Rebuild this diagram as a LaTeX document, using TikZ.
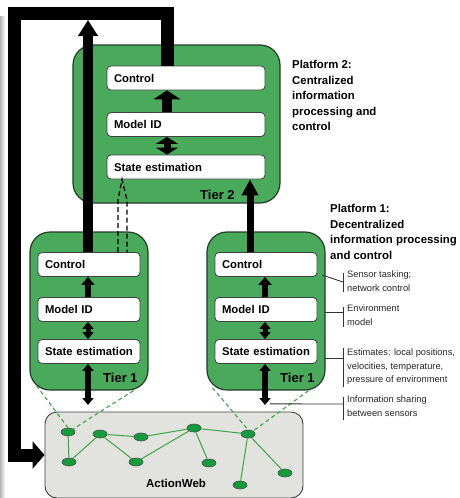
\documentclass[tikz,border=0pt]{standalone}
\usepackage{fontspec}
\setmainfont{Liberation Sans}
\usetikzlibrary{arrows.meta,shapes.geometric}
\definecolor{tgreen}{RGB}{74,170,92}
\definecolor{tedge}{RGB}{35,60,40}
\definecolor{ngreen}{RGB}{20,155,60}
\definecolor{lgreen}{RGB}{60,165,70}
\definecolor{awgray}{RGB}{226,226,222}
\tikzset{
  gbox/.style={draw=tedge, line width=1.2pt, fill=tgreen, rounded corners=20pt, inner sep=0pt},
  ibox/.style={draw=black!75, line width=0.8pt, fill=white, rounded corners=4pt, inner xsep=7pt, inner ysep=0pt,
     minimum height=24pt, align=left, font=\bfseries\fontsize{11.3}{13}\selectfont, text depth=0pt},
  tierlbl/.style={font=\bfseries\fontsize{13}{15}\selectfont, inner sep=0pt},
  bigarr/.style={line width=10pt, -{Triangle[width=27pt,length=9pt]}},
  dblarr/.style={line width=7pt, {Triangle[width=22pt,length=7pt]}-{Triangle[width=22pt,length=7pt]}},
  smarr/.style={line width=6pt, -{Triangle[width=13pt,length=8pt]}},
  smdbl/.style={line width=5pt, {Triangle[width=11pt,length=7pt]}-{Triangle[width=11pt,length=7pt]}},
  platlbl/.style={font=\bfseries\fontsize{11.4}{15.6}\selectfont, align=left, anchor=north west, inner sep=0pt},
  annot/.style={font=\fontsize{9.3}{13.4}\selectfont, align=left, anchor=north west, inner sep=0pt, text=black!85},
  annline/.style={draw=black!80, line width=0.9pt},
  wnode/.style={ellipse, draw=black!70, line width=0.6pt, fill=ngreen, minimum width=14pt, minimum height=8pt, inner sep=0pt},
  wedge/.style={draw=lgreen, line width=1pt},
  gdash/.style={draw=lgreen, line width=1.1pt, dash pattern=on 4pt off 3pt},
}
\begin{document}
\begin{tikzpicture}[x=1pt,y=-1pt]
\useasboundingbox (0,0) rectangle (460,498);
\fill[white] (0,0) rectangle (460,498);
% page shadow on the left
\shade[left color=gray!60, right color=white] (0,16) rectangle (5,498);

% ActionWeb
\node[draw=black!75, line width=0.9pt, fill=awgray, rounded corners=12pt, minimum width=258pt, minimum height=86pt, inner sep=0pt] (aw) at (174,455) {};
\node[font=\bfseries\fontsize{11.5}{13}\selectfont, inner sep=0pt] (awl) at (176,483) {ActionWeb};

% green platform boxes
\node[gbox, minimum width=207pt, minimum height=158pt] (t2) at (176.5,124) {};
\node[gbox, minimum width=118pt, minimum height=158pt] (t1l) at (89,311) {};
\node[gbox, minimum width=118pt, minimum height=158pt] (t1r) at (266,311) {};

% Tier 2 inner boxes
\node[ibox, text width=144pt] (c2) at (186,78) {Control};
\node[ibox, text width=144pt] (m2) at (186,124.5) {Model ID};
\node[ibox, text width=144pt] (s2) at (186,167) {State estimation};
\node[tierlbl, anchor=base west] (tl2) at (200,199) {Tier 2};

% Tier 1 left
\node[ibox, text width=88pt] (c1l) at (89,264.5) {Control};
\node[ibox, text width=88pt] (m1l) at (89,309.5) {Model ID};
\node[ibox, text width=88pt] (s1l) at (89,351.5) {State estimation};
\node[tierlbl, anchor=base west] (tl1l) at (103,382) {Tier 1};

% Tier 1 right
\node[ibox, text width=88pt] (c1r) at (266,264.5) {Control};
\node[ibox, text width=88pt] (m1r) at (266,309.5) {Model ID};
\node[ibox, text width=88pt] (s1r) at (266,351.5) {State estimation};
\node[tierlbl, anchor=base west] (tl1r) at (280,382) {Tier 1};

% x positions of arrows
\coordinate (x2) at (167,0);
\coordinate (xl) at (88,0);
\coordinate (xr) at (265,0);
\coordinate (xu) at (250,0);
\coordinate (topin) at (0,20);
\coordinate (bl) at (0,405);
\coordinate (br) at (0,405);

% big feedback frame
\draw[line width=13pt, line join=miter, -{Triangle[width=27pt,length=12pt]}]
  (c2.north -| x2) -- (167,13) -- (14.5,13) |- (aw.west);

% Tier 2 arrows
\draw[bigarr] (m2.north -| x2) -- (c2.south -| x2);
\draw[dblarr] (s2.north -| x2) -- (m2.south -| x2);

% Tier 1 left arrows
\draw[line width=10pt, -{Triangle[width=19pt,length=16pt]}] (c1l.north -| xl) -- (topin -| xl);
\draw[smarr] (m1l.north -| xl) -- (c1l.south -| xl);
\draw[smdbl] (s1l.north -| xl) -- (m1l.south -| xl);
\draw[smdbl, line width=6pt] (s1l.south -| xl) -- (bl -| xl);

% Tier 1 right arrows
\draw[line width=7pt, -{Triangle[width=16pt,length=16pt]}] (c1r.north -| xu) -- (s2.south -| xu);
\draw[smarr] (m1r.north -| xr) -- (c1r.south -| xr);
\draw[smdbl] (s1r.north -| xr) -- (m1r.south -| xr);
\draw[smdbl, line width=6pt] (s1r.south -| xr) -- (br -| xr);

% dashed hollow arrow from tier 1 left to tier 2
\draw[line width=1.3pt, dash pattern=on 5pt off 3pt] (c1l.north -| 118,0) -- (118,200) -- (s2.south -| 122,0) -- (127,200) -- (c1l.north -| 127,0);

% ActionWeb network
\node[wnode] (n1) at (68,432) {};
\node[wnode] (n2) at (100,434) {};
\node[wnode] (n3) at (141,437) {};
\node[wnode] (n4) at (194,428) {};
\node[wnode] (n5) at (69,462) {};
\node[wnode] (n6) at (136,462) {};
\node[wnode] (n7) at (209,463) {};
\node[wnode] (n8) at (248,434) {};
\node[wnode] (n9) at (285,473) {};
\node[wnode] (n10) at (240,485) {};
\draw[wedge] (n1) -- (n5);
\draw[wedge] (n5) -- (n2);
\draw[wedge] (n2) -- (n3);
\draw[wedge] (n2) -- (n6);
\draw[wedge] (n6) -- (n4);
\draw[wedge] (n3) -- (n4);
\draw[wedge] (n4) -- (n7);
\draw[wedge] (n4) -- (n8);
\draw[wedge] (n8) -- (n9);
\draw[wedge] (n8) -- (n10);

% dashed green links from tier 1 boxes to the network
\draw[gdash] (t1l.south west) ++(7,-5) -- (n1.north);
\draw[gdash] (t1l.south east) ++(-15,0) -- (n1.north east);
\draw[gdash] (t1r.south west) ++(6,-3) -- (n8.north);
\draw[gdash] (t1r.south east) ++(-17,0) -- (n8.north east);

% platform labels
\node[platlbl] (p2) at (292,60) {Platform 2:\\Centralized\\information\\processing and\\control};
\node[platlbl] (p1) at (330,204) {Platform 1:\\Decentralized\\information processing\\and control};

% annotations
\coordinate (a1) at (322,275);
\coordinate (a2) at (325,312);
\coordinate (a3) at (325,358);
\draw[annline] (a1) -- (343,282);
\draw[annline] (343,273) -- (343,292);
\node[annot] (an1) at (347,271) {Sensor tasking;\\network control};
\draw[annline] (a2) -- (343,312);
\draw[annline] (343,307) -- (343,327);
\node[annot] (an2) at (347,305) {Environment\\model};
\draw[annline] (a3) -- (343,358);
\draw[annline] (343,348) -- (343,387);
\node[annot] (an3) at (347,349) {Estimates: local positions,\\velocities, temperature,\\pressure of environment};
\draw[annline] (s1r.south -| 270,0) ++(0,40) -- (343,404);
\draw[annline] (343,397) -- (343,420);
\node[annot] (an4) at (347,396) {Information sharing\\between sensors};
\end{tikzpicture}
\end{document}
